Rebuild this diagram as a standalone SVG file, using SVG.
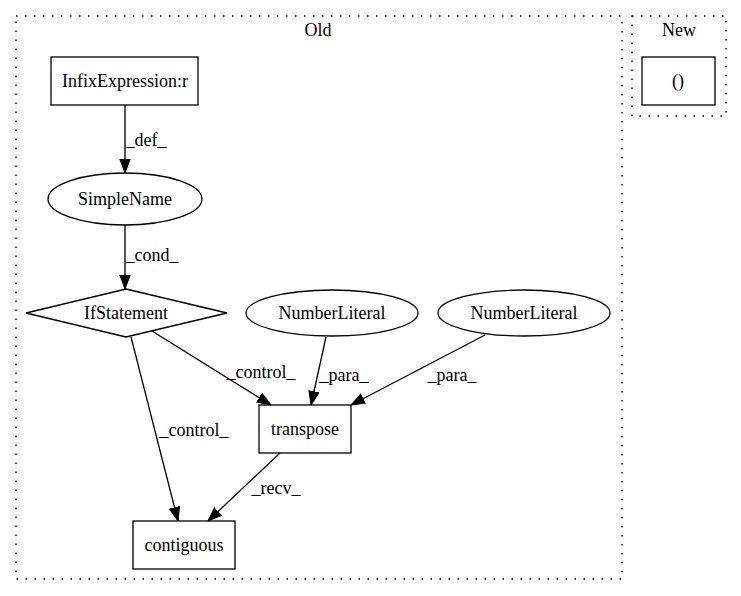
<svg xmlns="http://www.w3.org/2000/svg" width="741" height="596" viewBox="0 0 741 596">
<style>
text { font-family: "Liberation Serif", "Times New Roman", serif; font-size: 18px; fill: #000; text-anchor: middle; }
.cluster { fill: none; stroke: #000; stroke-width: 1.3; stroke-dasharray: 1.5,7.5; }
.node { fill: none; stroke: #000; stroke-width: 1.3; }
.edge { fill: none; stroke: #000; stroke-width: 1.3; marker-end: url(#arrow); }
</style>
<defs>
<marker id="arrow" viewBox="0 0 14 12" refX="14" refY="6" markerWidth="14" markerHeight="12" orient="auto" markerUnits="userSpaceOnUse">
<path d="M0,0.8 L14,6 L0,11.2 z" fill="#000" stroke="#000" stroke-width="1"/>
</marker>
</defs>
<rect width="741" height="596" fill="#fff"/>
<g id="cluster_old">
<rect class="cluster" x="16" y="16" width="606" height="563"/>
<text x="318" y="36">Old</text>
</g>
<g id="cluster_new">
<rect class="cluster" x="632" y="16" width="94" height="100"/>
<text x="679" y="36">New</text>
</g>
<g id="edges">
<path class="edge" d="M125,105 L125,173"/>
<text x="146" y="146">_def_</text>
<path class="edge" d="M125,225 L125,289"/>
<text x="152" y="261">_cond_</text>
<path class="edge" d="M131,337 L178,521"/>
<text x="194" y="436">_control_</text>
<path class="edge" d="M152,331 L271,405"/>
<text x="261" y="378">_control_</text>
<path class="edge" d="M326,337 L311,405"/>
<text x="344" y="381">_para_</text>
<path class="edge" d="M485,335 L351,405"/>
<text x="452" y="381">_para_</text>
<path class="edge" d="M280,453 L208,521"/>
<text x="276" y="494">_recv_</text>
</g>
<g id="node_infix">
<rect class="node" x="51" y="57" width="147" height="48"/>
<text x="125" y="87">InfixExpression:r</text>
</g>
<g id="node_simplename">
<ellipse class="node" cx="125" cy="199" rx="77" ry="26"/>
<text x="125" y="205">SimpleName</text>
</g>
<g id="node_if">
<polygon class="node" points="126,289 227,313 126,337 26,313"/>
<text x="126" y="319">IfStatement</text>
</g>
<g id="node_num1">
<ellipse class="node" cx="332" cy="313" rx="86" ry="23"/>
<text x="332" y="319">NumberLiteral</text>
</g>
<g id="node_num2">
<ellipse class="node" cx="524" cy="313" rx="86" ry="23"/>
<text x="524" y="319">NumberLiteral</text>
</g>
<g id="node_transpose">
<rect class="node" x="259" y="405" width="92" height="48"/>
<text x="305" y="435">transpose</text>
</g>
<g id="node_contiguous">
<rect class="node" x="133" y="521" width="102" height="48"/>
<text x="184" y="551">contiguous</text>
</g>
<g id="node_new">
<rect class="node" x="642" y="57" width="73" height="48"/>
<text x="678" y="87">()</text>
</g>
</svg>
